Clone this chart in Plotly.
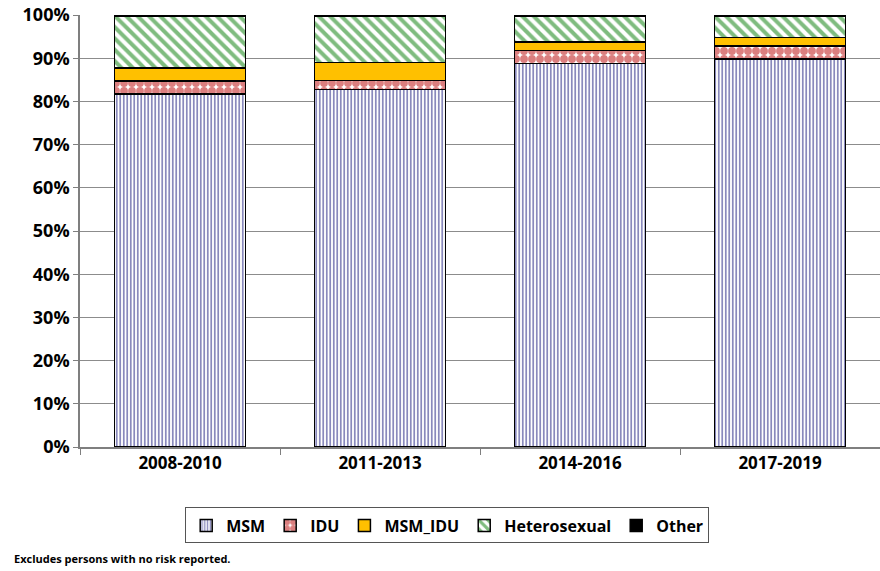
import plotly.graph_objects as go

# periods on the x axis
periods = ['2008-2010', '2011-2013', '2014-2016', '2017-2019']

# percent of cases by transmission risk
msm = [81.7, 82.8, 88.8, 89.8]
idu = [3.0, 2.0, 3.0, 3.0]
msm_idu = [3.0, 4.2, 2.0, 2.0]
hetero = [12.0, 10.7, 6.0, 5.0]
other = [0.3, 0.3, 0.2, 0.2]

# y tick labels
y_ticks = list(range(0, 101, 10))
y_labels = [f'{v}%' for v in y_ticks]

font_main = 'Open Sans'

fig = go.Figure()

def add_bar(name, values, color, pattern=None):
    marker = dict(color=color, line=dict(color='black', width=1.5))
    if pattern is not None:
        marker['pattern'] = pattern
    fig.add_trace(go.Bar(x=periods, y=values, name=name, marker=marker, width=0.655))

add_bar('MSM', msm, 'white', dict(shape='|', fgcolor='#14147A', bgcolor='white', size=3.5, solidity=0.5))
add_bar('IDU', idu, 'white', dict(shape='.', fgcolor='#B80000', bgcolor='white', size=8, solidity=0.75))
add_bar('MSM_IDU', msm_idu, '#FFC000')
add_bar('Heterosexual', hetero, 'white', dict(shape='\\', fgcolor='#007A00', bgcolor='white', size=8, solidity=0.5))
add_bar('Other', other, 'black')

fig.update_layout(
    barmode='stack',
    width=880, height=571,
    margin=dict(l=80, r=0, t=15, b=124),
    plot_bgcolor='white', paper_bgcolor='white',
    font=dict(family=font_main, color='black'),
    showlegend=True,
    legend=dict(orientation='h', x=0.459, xanchor='center', y=-0.14, yanchor='top',
                bordercolor='#555555', borderwidth=1, bgcolor='white',
                font=dict(size=16, family=font_main, weight='bold'),
                itemwidth=30, traceorder='normal'),
    annotations=[dict(text='<b>Excludes persons with no risk reported.</b>', xref='paper', yref='paper',
                      x=-0.085, y=-0.257, xanchor='left', yanchor='middle', showarrow=False,
                      font=dict(size=11, family=font_main))],
)

fig.update_yaxes(range=[0, 100], tickvals=y_ticks, ticktext=y_labels,
                 showgrid=True, gridcolor='#8C8C8C', gridwidth=1,
                 showline=True, linecolor='#7F7F7F', linewidth=1.5,
                 ticks='outside', ticklen=5, tickcolor='#7F7F7F',
                 tickfont=dict(size=18, family=font_main, weight='bold'))
fig.update_xaxes(showline=True, linecolor='#7F7F7F', linewidth=1.5,
                 ticks='outside', tickson='boundaries', ticklen=6, tickcolor='#7F7F7F',
                 tickfont=dict(size=17, family=font_main, weight='bold'))

# page has a default 8px body margin; drop it so the figure sits at the corner
fig.write_html('out.html', config={'displayModeBar': False},
               post_script="document.body.style.margin='0';")
